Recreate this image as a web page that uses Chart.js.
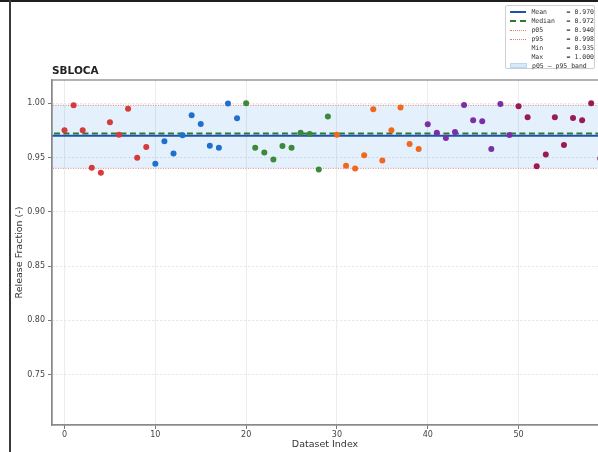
<!DOCTYPE html>
<html>
<head>
<meta charset="utf-8">
<script src="https://cdn.jsdelivr.net/npm/chart.js"></script>
<style>
  html, body { margin: 0; padding: 0; background: #fff; }
  #wrap { position: relative; width: 598px; height: 452px; overflow: hidden; }
  #topBar { position: absolute; left: 0; top: 0; width: 598px; height: 2px; background: #1e1e1e; }
  #leftBar { position: absolute; left: 9px; top: 0; width: 2px; height: 452px; background: #3a3a3a; }
  #legend {
    position: absolute; left: 505px; top: 5px; width: 90px; height: 64px;
    border: 1px solid #cfcfcf; border-radius: 2px; background: #fff;
    font-family: "DejaVu Sans Mono", monospace; font-size: 6.5px; color: #333;
    padding-top: 2px; box-sizing: border-box;
  }
  .row { display: flex; align-items: center; height: 8.9px; white-space: pre; }
  .swatch { width: 18px; margin: 0 5px 0 4px; height: 0; }
  .box { width: 17px; height: 5px; margin: 0 5px 0 4px; background: #d6e8fa; border: 1px solid #b9d6f3; box-sizing: border-box; }
</style>
</head>
<body>
<div id="wrap">
  <canvas id="chart" width="598" height="452"></canvas>
  <div id="topBar"></div>
  <div id="leftBar"></div>
  <div id="legend"></div>
</div>
<script>
// release fraction per dataset
const fractions = [
  0.975, 0.998, 0.975, 0.9405, 0.936, 0.9824, 0.971, 0.9948, 0.9497, 0.9596,
  0.9442, 0.9648, 0.9537, 0.9704, 0.9889, 0.9809, 0.9608, 0.959, 0.9997, 0.9861,
  1.000, 0.959, 0.9546, 0.9481, 0.9605, 0.959, 0.9728, 0.9716, 0.9389, 0.9877,
  0.971, 0.9423, 0.9398, 0.9521, 0.9944, 0.9472, 0.975, 0.996, 0.9623, 0.9577,
  0.9806, 0.9728, 0.9679, 0.9735, 0.9984, 0.9843, 0.9833, 0.9577, 0.9991, 0.9707,
  0.9972, 0.987, 0.942, 0.9528, 0.987, 0.9614, 0.9864, 0.9843, 1.000, 0.949
];
const groupSize = 10;
const groupColors = ['#d63a3a', '#1f6fd0', '#3a8a3a', '#f0671e', '#7b2fa6', '#9a1a52'];

const statLabels = ['Mean', 'Median', 'p05', 'p95', 'Min', 'Max'];
const statValues = [0.970, 0.972, 0.940, 0.998, 0.935, 1.000];

const xTickValues = [0, 10, 20, 30, 40, 50];
const yTickValues = [0.75, 0.80, 0.85, 0.90, 0.95, 1.00];
const xRange = [-1.38, 58.75];
const yRange = [0.7037, 1.0213];

const stat = name => statValues[statLabels.indexOf(name)];
const hline = v => [{ x: -20, y: v }, { x: 120, y: v }];

// scatter datasets, one per colour group
const groupSets = groupColors.map((c, g) => ({
  type: 'scatter',
  data: fractions.slice(g * groupSize, (g + 1) * groupSize)
    .map((v, k) => ({ x: g * groupSize + k, y: v })),
  backgroundColor: c,
  borderColor: c,
  borderWidth: 0,
  pointRadius: 3,
  order: 0
}));

const lineSets = [
  { type: 'line', data: hline(stat('p05')), borderColor: '#e07a7a', borderWidth: 1,
    borderDash: [1, 1.5], pointRadius: 0, fill: false, order: 2 },
  { type: 'line', data: hline(stat('p95')), borderColor: '#e07a7a', borderWidth: 1,
    borderDash: [1, 1.5], pointRadius: 0, fill: '-1',
    backgroundColor: 'rgba(30,136,229,0.12)', order: 2 },
  { type: 'line', data: hline(stat('Mean')), borderColor: '#1f52b0', borderWidth: 2,
    pointRadius: 0, fill: false, order: 1 },
  { type: 'line', data: hline(stat('Median')), borderColor: '#2b7a2b', borderWidth: 2,
    borderDash: [6, 3.5], pointRadius: 0, fill: false, order: 1 }
];

// title at the left of the plot + frame around it
const frameAndTitle = {
  id: 'frameAndTitle',
  afterDraw(chart) {
    const { ctx, chartArea: a } = chart;
    ctx.save();
    ctx.strokeStyle = '#8a8a8a';
    ctx.lineWidth = 1.3;
    ctx.strokeRect(a.left, a.top, a.right - a.left + 5, a.bottom - a.top);
    ctx.fillStyle = '#222';
    ctx.font = 'bold 10.5px "DejaVu Sans"';
    ctx.textBaseline = 'alphabetic';
    ctx.fillText('SBLOCA', a.left, a.top - 6);
    ctx.restore();
  }
};

new Chart(document.getElementById('chart'), {
  data: { datasets: [...lineSets, ...groupSets] },
  options: {
    responsive: false,
    animation: false,
    layout: { autoPadding: false, padding: { left: 0, right: 0, top: 80, bottom: 0 } },
    plugins: { legend: { display: false }, tooltip: { enabled: false } },
    scales: {
      x: {
        type: 'linear',
        min: xRange[0],
        max: xRange[1],
        afterBuildTicks: s => { s.ticks = xTickValues.map(v => ({ value: v })); },
        afterFit: s => { s.height = 27; s.paddingLeft = 0; s.paddingRight = 0; },
        ticks: { color: '#444', font: { family: 'DejaVu Sans', size: 8 }, padding: 1,
                 callback: v => String(v) },
        grid: { color: '#ececec', lineWidth: 1, tickColor: '#777', tickLength: 4 },
        border: { color: '#8a8a8a', width: 1.3 },
        title: { display: true, text: 'Dataset Index', color: '#333',
                 font: { family: 'DejaVu Sans', size: 9.5 }, padding: { top: 0, bottom: 2 } }
      },
      y: {
        type: 'linear',
        min: yRange[0],
        max: yRange[1],
        afterBuildTicks: s => { s.ticks = yTickValues.map(v => ({ value: v })); },
        afterFit: s => { s.width = 52; s.paddingTop = 0; s.paddingBottom = 0; },
        ticks: { color: '#444', font: { family: 'DejaVu Sans', size: 8 }, padding: 3,
                 callback: v => v.toFixed(2) },
        grid: { color: '#e4e4e4', lineWidth: 1, tickColor: '#777', tickLength: 4 },
        border: { color: '#8a8a8a', width: 1.3, dash: [2, 2] },
        title: { display: true, text: 'Release Fraction (-)', color: '#333',
                 font: { family: 'DejaVu Sans', size: 9.5 }, padding: { top: 14, bottom: 0 } }
      }
    }
  },
  plugins: [frameAndTitle]
});

// legend box (top right)
const legendEl = document.getElementById('legend');
const handles = {
  Mean: 'border-top:2px solid #1f52b0',
  Median: 'border-top:2px dashed #2b7a2b',
  p05: 'border-top:1px dotted #e07a7a',
  p95: 'border-top:1px dotted #e07a7a',
  Min: '',
  Max: ''
};
statLabels.forEach((name, i) => {
  const row = document.createElement('div');
  row.className = 'row';
  row.innerHTML = `<span class="swatch" style="${handles[name]}"></span><span>${name.padEnd(9)}= ${statValues[i].toFixed(3)}</span>`;
  legendEl.appendChild(row);
});
const bandRow = document.createElement('div');
bandRow.className = 'row';
bandRow.innerHTML = '<span class="box"></span><span>p05 – p95 band</span>';
legendEl.appendChild(bandRow);
</script>
</body>
</html>
